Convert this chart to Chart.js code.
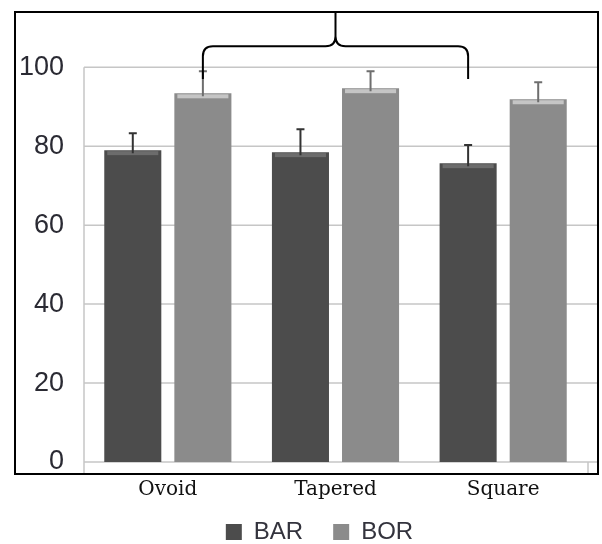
<!DOCTYPE html>
<html><head><meta charset="utf-8">
<script src="https://cdn.jsdelivr.net/npm/chart.js@4.4.0/dist/chart.umd.min.js"></script>
<style>html,body{margin:0;padding:0;background:#fff}#wrap{width:602px;height:544px}</style>
</head><body><div id="wrap"><canvas id="c" width="602" height="544"></canvas></div>
<script>
// ---- data ----
const categories = ['Ovoid', 'Tapered', 'Square'];
const seriesNames = ['BAR', 'BOR'];
const barValues = [79.0, 78.5, 75.7];
const barErrTop = [83.3, 84.3, 80.3];
const borValues = [93.4, 94.7, 91.9];
const borErrTop = [99.0, 99.0, 96.2];
const yTicks = [0, 20, 40, 60, 80, 100];
// bracket: from BOR of Ovoid to BAR of Square, peak at Tapered
const bracketLegValue = 97;
const bracketArmValue = 105.3;

// ---- styles ----
const FRAME = {left: 15, right: 598, bottom: 474};
const colors = ['#4c4c4c', '#8b8b8b'];
const errColors = ['#333333', '#6e6e6e'];
const errTops = [barErrTop, borErrTop];

const decor = {
  id: 'decor',
  afterLayout(chart) {
    const lg = chart.legend;
    if (lg) { lg.left += 26; lg.right += 26; lg.top -= 14; lg.bottom -= 14; }
  },
  beforeDatasetsDraw(chart) {
    const {ctx, chartArea: a, scales: {x, y}} = chart;
    ctx.save();
    ctx.strokeStyle = '#c6c6c6';
    ctx.lineWidth = 1.5;
    yTicks.forEach(v => {
      const py = y.getPixelForValue(v);
      ctx.beginPath(); ctx.moveTo(a.left, py); ctx.lineTo(FRAME.right, py); ctx.stroke();
    });
    ctx.beginPath(); ctx.moveTo(a.left, y.getPixelForValue(100)); ctx.lineTo(a.left, FRAME.bottom); ctx.stroke();
    ctx.beginPath(); ctx.moveTo(a.right + 1, a.bottom); ctx.lineTo(a.right + 1, FRAME.bottom); ctx.stroke();
    ctx.restore();
  },
  afterDatasetsDraw(chart) {
    const {ctx, chartArea: a, scales: {x, y}} = chart;
    ctx.save();
    // top highlight of bars
    chart.data.datasets.forEach((ds, di) => {
      const meta = chart.getDatasetMeta(di);
      meta.data.forEach((bar, i) => {
        const w = bar.width;
        const left = bar.x - w / 2;
        ctx.fillStyle = di === 0 ? 'rgba(255,255,255,0.18)' : 'rgba(255,255,255,0.5)';
        ctx.fillRect(left + 3, bar.y + 1, w - 6, 4);
      });
    });
    // error bars
    chart.data.datasets.forEach((ds, di) => {
      const meta = chart.getDatasetMeta(di);
      ctx.strokeStyle = errColors[di];
      ctx.lineWidth = 2;
      meta.data.forEach((bar, i) => {
        const yt = y.getPixelForValue(errTops[di][i]);
        ctx.beginPath();
        ctx.moveTo(bar.x, bar.y + 3);
        ctx.lineTo(bar.x, yt);
        ctx.moveTo(bar.x - 4, yt);
        ctx.lineTo(bar.x + 4, yt);
        ctx.stroke();
      });
    });
    // bracket
    const xl = chart.getDatasetMeta(1).data[0].x;
    const xr = chart.getDatasetMeta(0).data[2].x;
    const xc = x.getPixelForValue(1);
    const yl = y.getPixelForValue(bracketLegValue);
    const ya = y.getPixelForValue(bracketArmValue);
    const yt = a.top;
    const r = 10;
    ctx.strokeStyle = '#000';
    ctx.lineWidth = 2;
    ctx.beginPath();
    ctx.moveTo(xl, yl);
    ctx.lineTo(xl, ya + r);
    ctx.quadraticCurveTo(xl, ya, xl + r, ya);
    ctx.lineTo(xc - r, ya);
    ctx.quadraticCurveTo(xc, ya, xc, ya - r);
    ctx.lineTo(xc, yt);
    ctx.moveTo(xr, yl);
    ctx.lineTo(xr, ya + r);
    ctx.quadraticCurveTo(xr, ya, xr - r, ya);
    ctx.lineTo(xc + r, ya);
    ctx.quadraticCurveTo(xc, ya, xc, ya - r);
    ctx.stroke();
    ctx.restore();
  },
  afterDraw(chart) {
    const {ctx, chartArea: a} = chart;
    ctx.save();
    ctx.strokeStyle = '#000';
    ctx.lineWidth = 2;
    ctx.strokeRect(FRAME.left, a.top, FRAME.right - FRAME.left, FRAME.bottom - a.top);
    ctx.restore();
  }
};

new Chart(document.getElementById('c'), {
  type: 'bar',
  data: {
    labels: categories,
    datasets: [
      {label: seriesNames[0], data: barValues, backgroundColor: colors[0], borderWidth: 0},
      {label: seriesNames[1], data: borValues, backgroundColor: colors[1], borderWidth: 0}
    ]
  },
  options: {
    responsive: false,
    animation: false,
    devicePixelRatio: 1,
    barPercentage: 0.814,
    categoryPercentage: 0.836,
    layout: {padding: {top: 12, right: 15, left: 0, bottom: -24}},
    plugins: {
      tooltip: {enabled: false},
      legend: {
        position: 'bottom',
        labels: {
          boxWidth: 16, boxHeight: 16, padding: 30,
          color: '#33333d',
          font: {family: 'Liberation Sans', size: 24}
        }
      }
    },
    scales: {
      x: {
        grid: {display: false, drawTicks: false},
        border: {display: false},
        ticks: {color: '#111', padding: 16, font: {family: 'DejaVu Serif', size: 20}},
        afterFit(s) { s.height = 42; s.paddingLeft = 0; s.paddingRight = 0; }
      },
      y: {
        min: 0, max: 114,
        grid: {display: false, drawTicks: false},
        border: {display: false},
        afterBuildTicks(s) { s.ticks = yTicks.map(v => ({value: v})); },
        ticks: {color: '#2a2a33', padding: 20, font: {family: 'Liberation Sans', size: 27}},
        afterFit(s) { s.width = 84; s.paddingTop = 0; s.paddingBottom = 0; }
      }
    }
  },
  plugins: [decor]
});
</script>
</body></html>
